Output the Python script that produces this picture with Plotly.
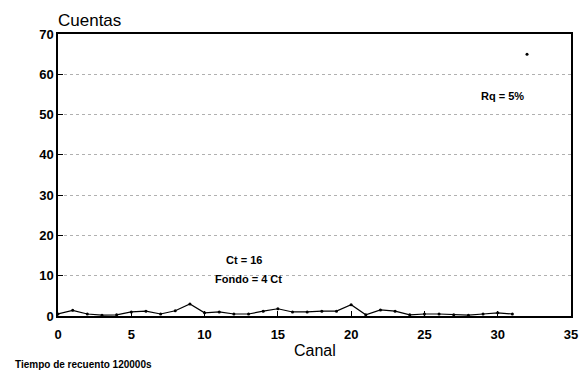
import plotly.graph_objects as go

canal = list(range(32))
cuentas = [0.5, 1.4, 0.5, 0.2, 0.3, 1.0, 1.2, 0.5, 1.3, 3.0, 0.8, 1.0, 0.5, 0.5, 1.2, 1.8,
           1.0, 1.0, 1.2, 1.2, 2.8, 0.3, 1.5, 1.2, 0.3, 0.5, 0.5, 0.3, 0.2, 0.5, 0.8, 0.5]
pico_x = [32]
pico_y = [65]

font = "Liberation Sans, Arial, sans-serif"

fig = go.Figure()
fig.add_trace(go.Scatter(x=canal, y=cuentas, mode="lines+markers",
                         line=dict(color="black", width=1.2),
                         marker=dict(color="black", size=3), showlegend=False))
fig.add_trace(go.Scatter(x=pico_x, y=pico_y, mode="markers",
                         marker=dict(color="black", size=3), showlegend=False))

fig.update_layout(
    width=588, height=386,
    margin=dict(l=58, r=10, t=34, b=70),
    paper_bgcolor="white", plot_bgcolor="white",
    xaxis=dict(range=[0, 35], tickvals=[0, 5, 10, 15, 20, 25, 30, 35],
               showgrid=False, zeroline=False, showline=True, linecolor="black",
               linewidth=1.5, mirror=True, ticks="inside", ticklen=5, tickcolor="black",
               ticklabelstandoff=6,
               tickfont=dict(family=font, size=13, color="black", weight="bold")),
    yaxis=dict(range=[0, 70], tickvals=[0, 10, 20, 30, 40, 50, 60, 70],
               showgrid=True, gridcolor="#b0b0b0", griddash="dot", gridwidth=1,
               zeroline=False, showline=True, linecolor="black", linewidth=1.5,
               mirror=True, ticks="inside", ticklen=5, tickcolor="black",
               tickfont=dict(family=font, size=13, color="black", weight="bold")),
    annotations=[
        dict(text="Cuentas", xref="paper", yref="paper", x=0, y=1.0, xanchor="left",
             yanchor="bottom", showarrow=False, yshift=2, xshift=-2,
             font=dict(family=font, size=17, color="black")),
        dict(text="Canal", xref="paper", yref="paper", x=0.5, y=0, xanchor="center",
             yanchor="top", showarrow=False, yshift=-24,
             font=dict(family=font, size=16, color="black")),
        dict(text="Tiempo de recuento 120000s", xref="paper", yref="paper", x=-58/520,
             y=0, xanchor="left", yanchor="top", showarrow=False, xshift=12, yshift=-41,
             font=dict(family=font, size=10, color="black", weight="bold")),
        dict(text="Ct = 16", x=12.7, y=13.9, showarrow=False,
             font=dict(family=font, size=11, color="black", weight="bold")),
        dict(text="Fondo = 4 Ct", x=13.0, y=9.2, showarrow=False,
             font=dict(family=font, size=11, color="black", weight="bold")),
        dict(text="Rq = 5%", x=30.3, y=54.6, showarrow=False,
             font=dict(family=font, size=11, color="black", weight="bold")),
    ],
)

fig.write_html("out.html")
